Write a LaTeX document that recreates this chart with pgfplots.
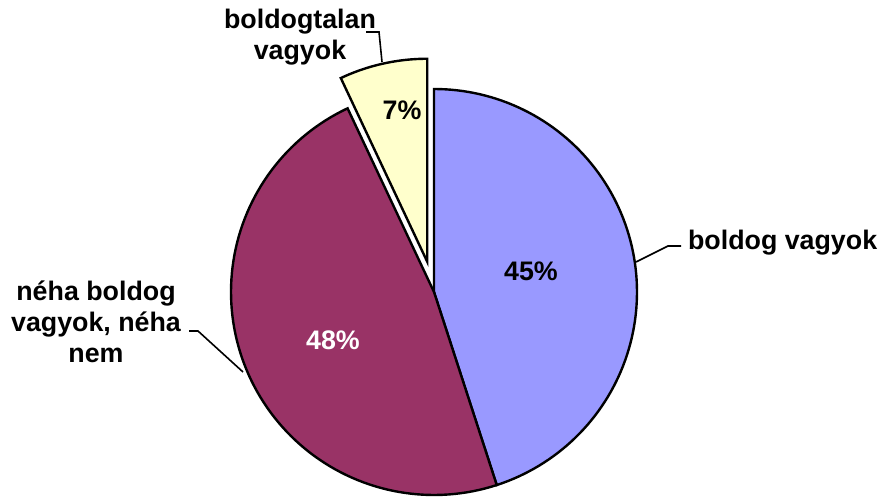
\documentclass[border=0pt]{standalone}
\usepackage{pgfplots}
\pgfplotsset{compat=1.18}
\usepackage{fontspec}
\setmainfont{Liberation Sans}
\definecolor{pblue}{HTML}{9999FF}
\definecolor{pmaroon}{HTML}{993366}
\definecolor{pyellow}{HTML}{FFFFCC}

% shares in percent
\def\vA{45}% boldog vagyok
\def\vB{48}% neha boldog vagyok, neha nem
\def\vC{7}%  boldogtalan vagyok
% pie geometry in pixel units
\def\cx{434}\def\cy{292}\def\R{203}\def\expl{31}
\pgfmathsetmacro\aA{90}
\pgfmathsetmacro\aB{90-3.6*\vA}
\pgfmathsetmacro\aC{\aB-3.6*\vB}
\pgfmathsetmacro\aD{\aC-3.6*\vC}
\pgfmathsetmacro\mC{(\aC+\aD)/2}
\pgfmathsetmacro\ex{\cx+\expl*cos(\mC)}
\pgfmathsetmacro\ey{\cy-\expl*sin(\mC)}

\begin{document}
\begin{tikzpicture}[lbl/.style={font=\bfseries\fontsize{13.4}{15.5}\selectfont}]
\begin{axis}[
  width=442pt, height=247.5pt, scale only axis,
  xmin=0, xmax=884, ymin=0, ymax=495, y dir=reverse,
  hide axis, clip=false,
]
\path (0,0) rectangle (884,495);
\addplot[fill=pblue, draw=black, line width=1.2pt, domain=\aB:\aA, samples=100]
  ({\cx+\R*cos(x)},{\cy-\R*sin(x)}) -- (\cx,\cy) -- cycle;
\addplot[fill=pmaroon, draw=black, line width=1.2pt, domain=\aC:\aB, samples=100]
  ({\cx+\R*cos(x)},{\cy-\R*sin(x)}) -- (\cx,\cy) -- cycle;
\addplot[fill=pyellow, draw=black, line width=1.2pt, domain=\aD:\aC, samples=30]
  ({\ex+\R*cos(x)},{\ey-\R*sin(x)}) -- (\ex,\ey) -- cycle;

\node[lbl] at (531,271) {45\%};
\node[lbl, text=white] at (333,340) {48\%};
\node[lbl] at (402,110) {7\%};

\draw[line width=0.8pt] (636,262) -- (668,246) -- (681,246);
\node[lbl, anchor=west] at (681,243) {boldog vagyok};
\draw[line width=0.8pt] (382,62) -- (379,32) -- (366,32);
\node[lbl, align=center] at (300,37) {boldogtalan\\vagyok};
\draw[line width=0.8pt] (243,372) -- (198,331) -- (189,331);
\node[lbl, align=center] at (96,322) {néha boldog\\vagyok, néha\\nem};
\end{axis}
\end{tikzpicture}
\end{document}
